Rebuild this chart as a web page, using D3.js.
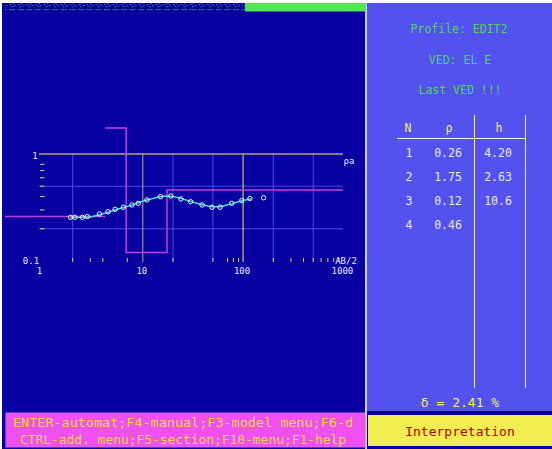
<!DOCTYPE html>
<html>
<head>
<meta charset="utf-8">
<script src="https://cdn.jsdelivr.net/npm/d3@7"></script>
<style>
  body { margin: 0; background: #fff; }
  svg { display: block; }
  text { font-family: "DejaVu Sans Mono", monospace; }
</style>
</head>
<body>
<script>
// observed sounding curve
var ab2 = [1.9, 2.1, 2.5, 2.8, 3.7, 4.5, 5.3, 6.4, 7.8, 9, 11, 15, 19, 24, 30, 39, 49, 59, 77, 97, 117, 160];
var rhoObs = [0.256, 0.256, 0.256, 0.26, 0.275, 0.289, 0.304, 0.318, 0.334, 0.346, 0.372, 0.399, 0.405, 0.38, 0.358, 0.334, 0.318, 0.318, 0.346, 0.367, 0.384, 0.39];
// calculated curve
var abCalc = [1.9, 2.5, 3, 3.7, 4.5, 5.3, 6.4, 7.8, 9, 11, 14, 17, 20, 24, 30, 39, 49, 59, 77, 97, 120];
var rhoCalc = [0.255, 0.256, 0.258, 0.27, 0.285, 0.3, 0.316, 0.333, 0.35, 0.372, 0.395, 0.404, 0.4, 0.385, 0.36, 0.336, 0.322, 0.322, 0.343, 0.366, 0.382];

// layer model
var layerN = [1, 2, 3, 4];
var layerRho = [0.26, 1.75, 0.12, 0.46];
var layerH = [4.20, 2.63, 10.6];

var xGrid = [2, 20, 50, 200, 500];
var xMarks = [10, 100];
var xTicks = [2, 3, 4, 7, 20, 50, 70, 80, 90, 200, 300, 400, 500, 600, 700, 800, 900];
var xLabels = [1, 10, 100, 1000];
var yGrid = [0.5, 0.2];
var yTicks = [0.8, 0.7, 0.6, 0.5, 0.4, 0.3, 0.2];

var W = 552, H = 449;
var svg = d3.select('body').append('svg').attr('width', W).attr('height', H);

var x = d3.scaleLog().domain([1, 1000]).range([42.5, 343.4]);
var y = d3.scaleLog().domain([0.1, 1]).range([261, 154]);

// background panels
svg.append('rect').attr('width', W).attr('height', H).attr('fill', '#ffffff');
svg.append('rect').attr('x', 2).attr('y', 3).attr('width', 363).attr('height', 446).attr('fill', '#0800a0');
svg.append('rect').attr('x', 365).attr('y', 3).attr('width', 2).attr('height', 446).attr('fill', '#d0d0f0');
svg.append('rect').attr('x', 367).attr('y', 3).attr('width', 185).attr('height', 408).attr('fill', '#5452ee');
svg.append('rect').attr('x', 367).attr('y', 411).attr('width', 185).attr('height', 38).attr('fill', '#0800a0');

// top status bar
var defs = svg.append('defs');
var pat = defs.append('pattern').attr('id', 'dots').attr('patternUnits', 'userSpaceOnUse')
  .attr('width', 8.6).attr('height', 8);
pat.append('rect').attr('width', 8.6).attr('height', 8).attr('fill', '#0800a0');
[[1, 1], [3, 1], [1, 4], [4, 3], [6, 5], [3, 6], [5, 1]].forEach(function (p) {
  pat.append('rect').attr('x', p[0]).attr('y', p[1]).attr('width', 1.2).attr('height', 1.2).attr('fill', '#3aa080');
});
svg.append('rect').attr('x', 5).attr('y', 3).attr('width', 240).attr('height', 8).attr('fill', 'url(#dots)');
svg.append('rect').attr('x', 245).attr('y', 3).attr('width', 121).attr('height', 8.5).attr('fill', '#50e850');

// chart grid
var plot = svg.append('g');
plot.selectAll('.ygrid').data(yGrid).enter().append('line')
  .attr('x1', 39).attr('x2', 343).attr('y1', d => y(d)).attr('y2', d => y(d))
  .attr('stroke', '#4a4ae6').attr('stroke-width', 1);
plot.selectAll('.xgrid').data(xGrid).enter().append('line')
  .attr('x1', d => x(d)).attr('x2', d => x(d)).attr('y1', y(1)).attr('y2', 262)
  .attr('stroke', '#4a4ae6').attr('stroke-width', 1);
plot.selectAll('.xmark').data(xMarks).enter().append('line')
  .attr('x1', d => x(d)).attr('x2', d => x(d)).attr('y1', y(1)).attr('y2', 262)
  .attr('stroke', (d, i) => i === 0 ? '#b8b060' : '#f0f040').attr('stroke-width', 1);
plot.append('line').attr('x1', 39).attr('x2', 343).attr('y1', y(1)).attr('y2', y(1))
  .attr('stroke', '#b0a868').attr('stroke-width', 1.5);
plot.selectAll('.xtick').data(xTicks).enter().append('line')
  .attr('x1', d => x(d)).attr('x2', d => x(d)).attr('y1', 258).attr('y2', 262)
  .attr('stroke', '#d8d040').attr('stroke-width', 1);
plot.selectAll('.ytick').data(yTicks).enter().append('line')
  .attr('x1', 40).attr('x2', 44.5).attr('y1', d => y(d)).attr('y2', d => y(d))
  .attr('stroke', '#d8d040').attr('stroke-width', 1);

// axis labels
var lab = plot.append('g').attr('fill', '#e8e8ff').attr('font-size', 9);
lab.append('text').attr('x', 35).attr('y', 159).attr('text-anchor', 'middle').text('1');
lab.append('text').attr('x', 31).attr('y', 264).attr('text-anchor', 'middle').text('0.1');
lab.append('text').attr('x', 349).attr('y', 164).attr('text-anchor', 'middle').text('ρa');
lab.append('text').attr('x', 346).attr('y', 264).attr('text-anchor', 'middle').text('AB/2');
lab.selectAll('.xl').data(xLabels).enter().append('text')
  .attr('x', (d, i) => x(d) - (i === 0 ? 3 : 1)).attr('y', 274).attr('text-anchor', 'middle').text(d => d);

// model step curve (no vertical drawn at the first boundary, as on screen)
var bounds = [];
layerH.reduce(function (acc, h) { bounds.push(acc + h); return acc + h; }, 0);
var model = plot.append('g').attr('stroke', '#c040d8').attr('stroke-width', 1.5).attr('fill', 'none');
model.append('line').attr('x1', 5).attr('x2', x(bounds[0]))
  .attr('y1', y(layerRho[0])).attr('y2', y(layerRho[0]));
var pts = [[x(bounds[0]), y(layerRho[1])]];
for (var k = 1; k < bounds.length; k++) {
  pts.push([x(bounds[k]), y(layerRho[k])]);
  pts.push([x(bounds[k]), y(layerRho[k + 1])]);
}
pts.push([343, y(layerRho[layerRho.length - 1])]);
model.append('path').attr('d', d3.line()(pts));

// calculated curve
plot.append('path')
  .attr('d', d3.line().x((d, i) => x(abCalc[i])).y(d => y(d))(rhoCalc))
  .attr('fill', 'none').attr('stroke', '#40e0e8').attr('stroke-width', 1.5);

// observed points
plot.selectAll('.obs').data(rhoObs).enter().append('circle')
  .attr('cx', (d, i) => x(ab2[i])).attr('cy', d => y(d)).attr('r', 2.2)
  .attr('fill', 'none').attr('stroke', '#f0f0ff').attr('stroke-width', 1);

// right panel texts
var info = svg.append('g').attr('fill', '#4cd44c').attr('font-size', 11.5).attr('text-anchor', 'middle');
info.append('text').attr('x', 459).attr('y', 33).text('Profile: EDIT2');
info.append('text').attr('x', 460).attr('y', 64).text('VED: EL E');
info.append('text').attr('x', 460).attr('y', 94).text('Last VED !!!');

// table
var tbl = svg.append('g').attr('font-size', 11.5).attr('text-anchor', 'middle');
tbl.append('line').attr('x1', 397).attr('x2', 525).attr('y1', 138.5).attr('y2', 138.5).attr('stroke', '#f0f0ff');
tbl.append('line').attr('x1', 474.5).attr('x2', 474.5).attr('y1', 115).attr('y2', 388).attr('stroke', '#f0f0ff');
tbl.append('line').attr('x1', 525.5).attr('x2', 525.5).attr('y1', 115).attr('y2', 388).attr('stroke', '#f0f0ff');
var head = tbl.append('g').attr('fill', '#f0f050');
head.append('text').attr('x', 408).attr('y', 132).text('N');
head.append('text').attr('x', 449).attr('y', 132).text('ρ');
head.append('text').attr('x', 499).attr('y', 132).text('h');
var rows = tbl.selectAll('.row').data(layerN).enter().append('g').attr('fill', '#e8e8ff');
rows.append('text').attr('x', 409).attr('y', (d, i) => 157 + i * 24).text(d => d);
rows.append('text').attr('x', 448).attr('y', (d, i) => 157 + i * 24).text((d, i) => layerRho[i].toFixed(2));
rows.append('text').attr('x', 498).attr('y', (d, i) => 157 + i * 24).text((d, i) => i < layerH.length ? (layerH[i] >= 10 ? layerH[i].toFixed(1) : layerH[i].toFixed(2)) : '');

svg.append('text').attr('x', 460).attr('y', 407).attr('text-anchor', 'middle')
  .attr('font-size', 13).attr('fill', '#f0f050').text('δ = 2.41 %');

// bottom boxes
svg.append('rect').attr('x', 6).attr('y', 413).attr('width', 359).attr('height', 34)
  .attr('fill', '#f050f0').attr('stroke', '#d060f8').attr('stroke-width', 1);
var keys = svg.append('g').attr('fill', '#f8d840').attr('font-size', 12);
keys.append('text').attr('x', 13).attr('y', 427).attr('textLength', 340).attr('lengthAdjust', 'spacingAndGlyphs')
  .text('ENTER-automat;F4-manual;F3-model menu;F6-d');
keys.append('text').attr('x', 20).attr('y', 444).attr('textLength', 326).attr('lengthAdjust', 'spacingAndGlyphs')
  .text('CTRL-add. menu;F5-section;F10-menu;F1-help');

svg.append('rect').attr('x', 368).attr('y', 415).attr('width', 184).attr('height', 31).attr('fill', '#f0ee50');
svg.append('text').attr('x', 460).attr('y', 436).attr('text-anchor', 'middle')
  .attr('font-size', 13).attr('fill', '#b00000').text('Interpretation');
</script>
</body>
</html>
